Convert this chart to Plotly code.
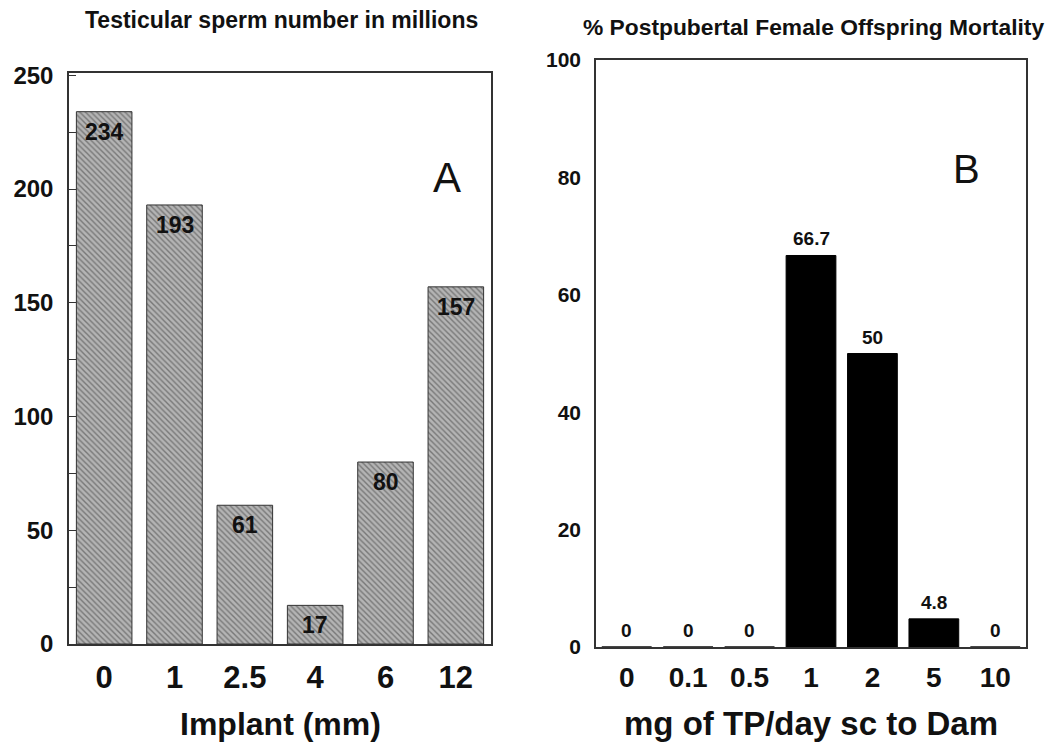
import plotly.graph_objects as go

# Panel A data
implant_mm = ["0", "1", "2.5", "4", "6", "12"]
sperm_millions = [234, 193, 61, 17, 80, 157]

# Panel B data
tp_dose = ["0", "0.1", "0.5", "1", "2", "5", "10"]
mortality_pct = [0, 0, 0, 66.7, 50, 4.8, 0]
mortality_labels = ["0", "0", "0", "66.7", "50", "4.8", "0"]

W, H = 1045, 744
FONT = "Liberation Sans, Arial, sans-serif"
VS = 0.968  # observed vertical compression of the capture, compensated here

def px_x(p):
    return p / W

def px_y(p):
    p_set = H / 2 + (p - H / 2) / VS
    return (H - p_set) / H

fig = go.Figure()

fig.add_trace(go.Bar(
    x=implant_mm, y=sperm_millions, xaxis="x", yaxis="y", width=0.79,
    marker=dict(color="#b4b4b4",
                line=dict(color="#333333", width=1),
                pattern=dict(shape="\\", fgcolor="#3c3c3c", size=4, solidity=0.35)),
    showlegend=False, hoverinfo="skip",
))

fig.add_trace(go.Bar(
    x=tp_dose, y=mortality_pct, xaxis="x2", yaxis="y2", width=0.81,
    marker=dict(color="#000000", line=dict(color="#000000", width=1)),
    showlegend=False, hoverinfo="skip",
))

annotations = []
# value labels for A (inside top of bars); category index positions
for i, v in enumerate(sperm_millions):
    annotations.append(dict(x=i, y=v, xref="x", yref="y", text=f"<b>{v}</b>",
                            showarrow=False, yanchor="top", yshift=-5,
                            font=dict(family=FONT, size=23, color="#111")))
# value labels for B (above bars)
for i, (v, t) in enumerate(zip(mortality_pct, mortality_labels)):
    annotations.append(dict(x=i, y=v, xref="x2", yref="y2", text=f"<b>{t}</b>",
                            showarrow=False, yanchor="bottom", yshift=4,
                            font=dict(family=FONT, size=19, color="#111")))

# titles, axis titles, panel letters
annotations += [
    dict(x=px_x(281), y=px_y(20), xref="paper", yref="paper",
         text="<b>Testicular sperm number in millions</b>", showarrow=False,
         xanchor="center", yanchor="middle", font=dict(family=FONT, size=23, color="#111")),
    dict(x=px_x(813), y=px_y(27), xref="paper", yref="paper",
         text="<b>% Postpubertal Female Offspring Mortality</b>", showarrow=False,
         xanchor="center", yanchor="middle", font=dict(family=FONT, size=22.8, color="#111")),
    dict(x=px_x(280), y=px_y(725), xref="paper", yref="paper",
         text="<b>Implant (mm)</b>", showarrow=False,
         xanchor="center", yanchor="middle", font=dict(family=FONT, size=32, color="#111")),
    dict(x=px_x(811), y=px_y(725), xref="paper", yref="paper",
         text="<b>mg of TP/day sc to Dam</b>", showarrow=False,
         xanchor="center", yanchor="middle", font=dict(family=FONT, size=33, color="#111")),
    dict(x=px_x(447), y=px_y(178), xref="paper", yref="paper",
         text="A", showarrow=False, xanchor="center", yanchor="middle",
         font=dict(family=FONT, size=42, color="#111")),
    dict(x=px_x(966), y=px_y(169), xref="paper", yref="paper",
         text="B", showarrow=False, xanchor="center", yanchor="middle",
         font=dict(family=FONT, size=40, color="#111")),
]

fig.update_layout(
    width=W, height=H,
    margin=dict(l=0, r=0, t=0, b=0),
    paper_bgcolor="white", plot_bgcolor="white",
    font=dict(family=FONT, color="#111"),
    annotations=annotations,
    xaxis=dict(domain=[px_x(69), px_x(491)], anchor="y", type="category",
               range=[-0.5, len(implant_mm) - 0.5],
               showline=True, mirror=True, linecolor="#333", linewidth=1.5,
               ticks="", showgrid=False, ticklabelstandoff=5,
               tickfont=dict(family=FONT, size=31, color="#111", weight="bold")),
    yaxis=dict(domain=[px_y(645), px_y(73)], anchor="x", range=[0, 251],
               showline=True, mirror=True, linecolor="#333", linewidth=1.5,
               tickvals=[0, 50, 100, 150, 200, 250], ticks="inside", ticklen=7,
               tickcolor="#333", minor=dict(ticks="inside", ticklen=7, dtick=25, tickcolor="#333"),
               showgrid=False, zeroline=False, ticklabelstandoff=9,
               tickfont=dict(family=FONT, size=24, color="#111", weight="bold")),
    xaxis2=dict(domain=[px_x(596), px_x(1026)], anchor="y2", type="category",
                range=[-0.5, len(tp_dose) - 0.5],
                showline=True, mirror=True, linecolor="#333", linewidth=1.5,
                ticks="", showgrid=False, ticklabelstandoff=5,
                tickfont=dict(family=FONT, size=28, color="#111", weight="bold")),
    yaxis2=dict(domain=[px_y(648), px_y(60)], anchor="x2", range=[0, 100],
                showline=True, mirror=True, linecolor="#333", linewidth=1.5,
                tickvals=[0, 20, 40, 60, 80, 100], ticks="",
                showgrid=False, zeroline=False, ticklabelstandoff=9,
                tickfont=dict(family=FONT, size=21, color="#111", weight="bold")),
)

fig.write_html("out.html", config={"displayModeBar": False},
               post_script="document.body.style.margin='0';")
